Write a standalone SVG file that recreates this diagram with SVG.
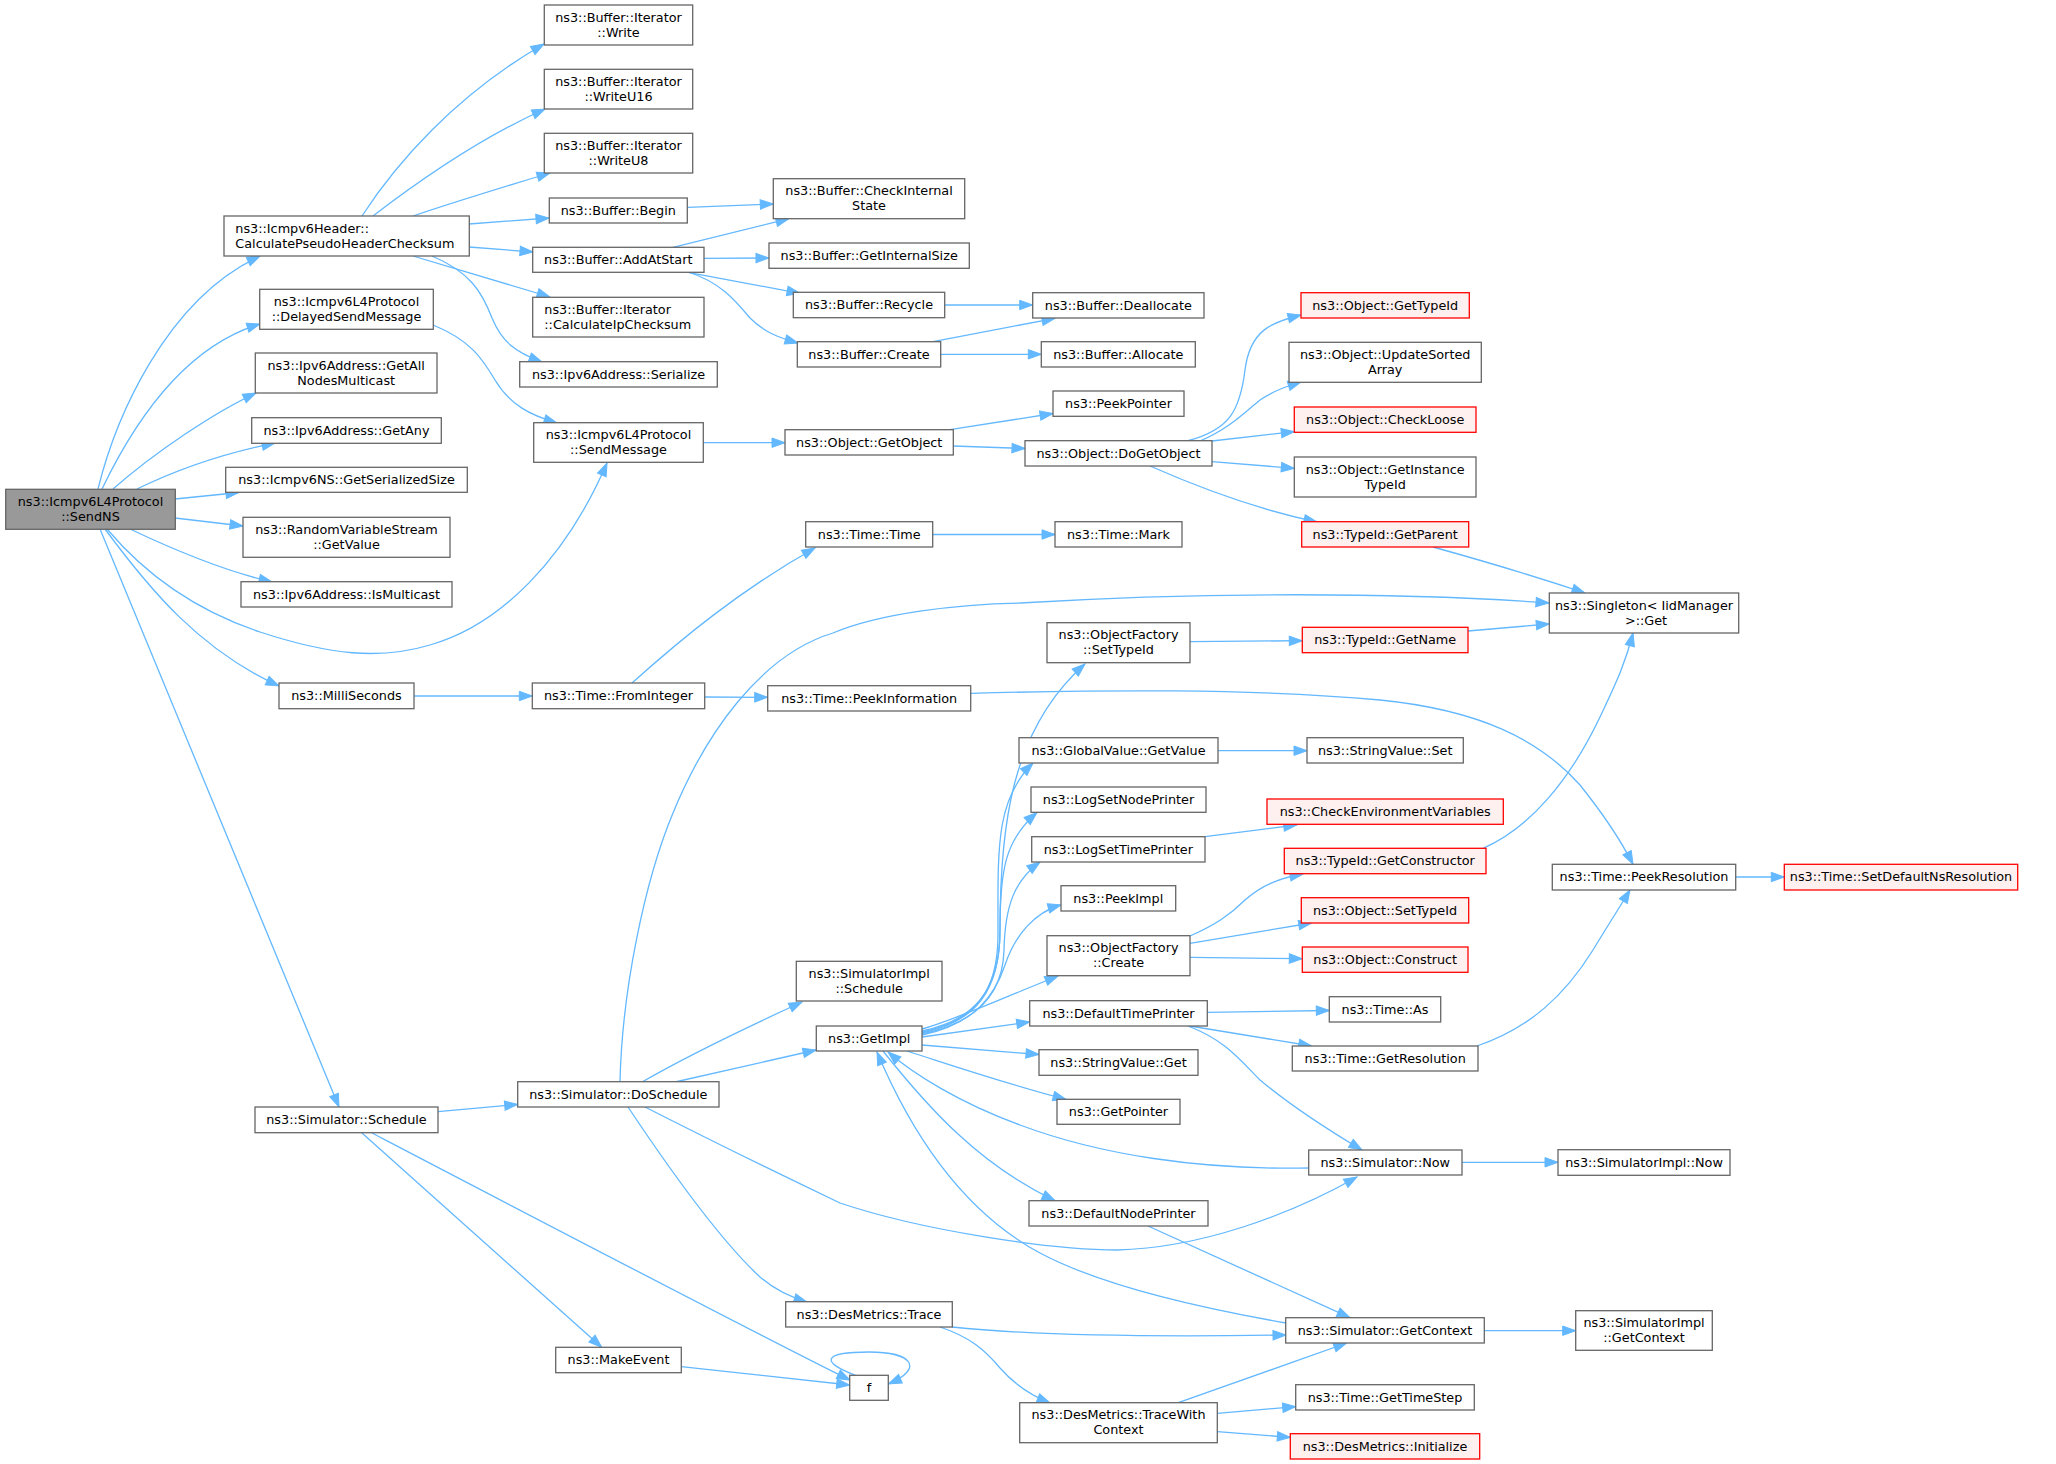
<svg xmlns="http://www.w3.org/2000/svg" width="2056" height="1464" viewBox="0 0 2056 1464">
<style>
.n rect{fill:#ffffff;stroke:#666666;stroke-width:1.3}
.r rect{fill:#fff0f0;stroke:#ff0000;stroke-width:1.3}
.root rect{fill:#999999;stroke:#666666;stroke-width:1.3}
text{font-family:"DejaVu Sans",sans-serif;font-size:12.8px;fill:#000000;text-anchor:middle}
text.l{text-anchor:start}
#edges path{fill:none;stroke:#63b8ff;stroke-width:1.3;marker-end:url(#a)}
</style>
<defs>
<marker id="a" markerWidth="14" markerHeight="10" refX="13" refY="4.7" orient="auto" markerUnits="userSpaceOnUse" style="overflow:visible">
<path d="M0,0 L13,4.7 L0,9.4 z" fill="#63b8ff" stroke="#63b8ff" stroke-width="1"/>
</marker>
</defs>
<rect x="0" y="0" width="2056" height="1464" fill="#ffffff"/>
<g id="edges">
<path d="M98,489 C115,420 165,300 260,256"/>
<path d="M102,489 C140,410 190,345 260,324"/>
<path d="M113,489 C155,452 215,412 256,393"/>
<path d="M137,489 C180,468 230,452 275,443"/>
<path d="M175,499 L239,492.5"/>
<path d="M175,518 L243,526"/>
<path d="M130,529 C170,548 220,570 272,582"/>
<path d="M107,529 C150,580 200,612 260,632 C330,655 380,660 430,645 C500,625 565,560 607,463"/>
<path d="M105,529 C150,590 200,650 279,686"/>
<path d="M100,529 L339,1107"/>
<path d="M362,216 C395,165 455,95 544,44"/>
<path d="M373,216 C420,180 480,138 545,109"/>
<path d="M413,216 C460,200 500,188 550,173"/>
<path d="M469,224 L549,218"/>
<path d="M469,247 L533,252"/>
<path d="M413,256 C460,270 500,282 550,297"/>
<path d="M432,256 C470,272 482,292 492,318 C502,342 515,352 542,362"/>
<path d="M433,325 C470,340 482,358 495,380 C510,405 530,415 557,423"/>
<path d="M703,442.7 L785,442.7"/>
<path d="M673,247.3 L789,218.7"/>
<path d="M704,258.3 L769,258"/>
<path d="M688,272.3 L800,293.3"/>
<path d="M688,272 C720,282 735,300 750,318 C765,333 780,338 798,343"/>
<path d="M687.3,207.3 L773.3,204"/>
<path d="M944.7,305 L1032.7,305"/>
<path d="M933,341.7 L1055,318.3"/>
<path d="M940.7,354.3 L1041.3,354.3"/>
<path d="M950,429.7 L1053,413.5"/>
<path d="M953.3,446 L1025,448.5"/>
<path d="M1187,441 C1230,430 1240,410 1245,370 C1250,330 1272,322 1301,315"/>
<path d="M1200,441 C1230,428 1245,412 1260,400 C1275,390 1288,386 1301,382"/>
<path d="M1212,441 L1294.3,431.7"/>
<path d="M1212,461.7 L1294.3,468.3"/>
<path d="M1150,466 C1200,488 1260,510 1317,522"/>
<path d="M1433,547 C1480,560 1540,578 1585,593"/>
<path d="M1468,631 L1549.3,624"/>
<path d="M1190,641.7 L1302.3,640.7"/>
<path d="M620,1082 C622,990 645,880 673,813 C705,735 760,655 833,633 C880,613 960,604 1020,603 C1200,592 1400,592 1549,603"/>
<path d="M642,1082 C680,1060 730,1035 802,1002"/>
<path d="M675,1082 L816,1050"/>
<path d="M645,1107 C700,1135 750,1160 840,1203 C920,1230 1050,1250 1117,1250 C1200,1248 1290,1215 1357,1177"/>
<path d="M628,1107 C670,1170 720,1240 760,1277 C775,1290 790,1297 807,1302"/>
<path d="M438,1111.7 L517.7,1104.5"/>
<path d="M361.7,1132.7 L601.7,1347.3"/>
<path d="M372,1133 C600,1252 780,1346 850,1380"/>
<path d="M681.3,1366.7 L849.7,1385"/>
<path d="M856,1375.5 C820,1362 822,1352 869,1352 C912,1352 925,1368 888.5,1384"/>
<path d="M952,1327 C1000,1332 1100,1338 1286,1335"/>
<path d="M940,1327 C970,1337 985,1350 1000,1368 C1015,1385 1030,1395 1050,1403"/>
<path d="M922,1031 C975,1020 1000,990 1000,930 C1000,830 1010,730 1085,664"/>
<path d="M922,1032 C975,1021 998,992 998,935 C998,850 995,800 1033,763"/>
<path d="M922,1033 C975,1022 1000,992 1000,930 C1000,870 1005,840 1037,812.5"/>
<path d="M922,1034 C975,1023 1003,995 1004,950 C1005,905 1015,880 1040,862"/>
<path d="M922,1035 C975,1024 995,995 1005,965 C1015,935 1035,912 1061,905"/>
<path d="M922,1029 C955,1020 1005,997 1058,976"/>
<path d="M922,1037 L1029.7,1022"/>
<path d="M922,1045 L1039,1054.5"/>
<path d="M907,1051 C960,1068 1010,1085 1066,1099.3"/>
<path d="M883,1051 C930,1110 980,1165 1055,1200.7"/>
<path d="M1308.7,1168 C1200,1170 1100,1155 1020,1125 C960,1103 915,1075 888,1052"/>
<path d="M1286,1323 C1200,1308 1100,1285 1040,1253 C960,1210 910,1130 877,1052"/>
<path d="M1218,750.7 L1307,750.7"/>
<path d="M1205,836.7 L1296.7,825"/>
<path d="M1190,936 C1215,925 1230,915 1245,900 C1262,885 1280,878 1303,874"/>
<path d="M1190,943.3 L1311.7,923"/>
<path d="M1190,957.3 L1302.3,958.7"/>
<path d="M1207.3,1012.3 L1329.3,1010.5"/>
<path d="M1190,1026 L1311.7,1046"/>
<path d="M1188,1026 C1225,1040 1240,1060 1260,1080 C1290,1105 1320,1125 1362,1150"/>
<path d="M1483,848.3 C1530,828 1570,780 1600,717 C1615,685 1625,665 1633,633"/>
<path d="M1477,1046 C1530,1028 1565,995 1593,950 C1605,930 1618,910 1630,890"/>
<path d="M971,693.3 C1100,690 1250,688 1380,700 C1480,710 1540,740 1580,785 C1600,810 1618,835 1633,864.3"/>
<path d="M1735.7,877 L1784.3,877"/>
<path d="M1148,1226 L1350,1317.7"/>
<path d="M632,683 C680,640 740,590 815,548"/>
<path d="M704.7,697 L767.7,697.3"/>
<path d="M932.7,534.5 L1055,534.5"/>
<path d="M414,696 L532.3,696"/>
<path d="M1462,1162.3 L1558,1162.3"/>
<path d="M1484.3,1330.7 L1575.7,1330.7"/>
<path d="M1178.3,1402.7 L1346.7,1343"/>
<path d="M1217.3,1413.3 L1295.7,1406.7"/>
<path d="M1217.3,1431.7 L1290.3,1437.3"/>
</g>
<g id="n_sendns" class="root"><rect x="5.7" y="489.3" width="169.6" height="40"/><text x="90.5" y="505.8">ns3::Icmpv6L4Protocol</text><text x="90.5" y="520.8">::SendNS</text></g>
<g id="n_calcpseudo" class="n"><rect x="224" y="216" width="245.3" height="40"/><text class="l" x="235.3" y="232.5">ns3::Icmpv6Header::</text><text class="l" x="235.3" y="247.5">CalculatePseudoHeaderChecksum</text></g>
<g id="n_delayed" class="n"><rect x="259.7" y="289.3" width="173.6" height="40"/><text x="346.5" y="305.8">ns3::Icmpv6L4Protocol</text><text x="346.5" y="320.8">::DelayedSendMessage</text></g>
<g id="n_getallnodes" class="n"><rect x="255.3" y="353" width="181.7" height="40"/><text x="346.2" y="369.5">ns3::Ipv6Address::GetAll</text><text x="346.2" y="384.5">NodesMulticast</text></g>
<g id="n_getany" class="n"><rect x="251.7" y="417.7" width="189.6" height="25.6"/><text x="346.5" y="434.5">ns3::Ipv6Address::GetAny</text></g>
<g id="n_getsersize" class="n"><rect x="225.7" y="467.3" width="241.6" height="25"/><text x="346.5" y="484">ns3::Icmpv6NS::GetSerializedSize</text></g>
<g id="n_rvs" class="n"><rect x="243" y="517.3" width="207" height="40"/><text x="346.5" y="533.8">ns3::RandomVariableStream</text><text x="346.5" y="548.8">::GetValue</text></g>
<g id="n_ismulticast" class="n"><rect x="241" y="581.7" width="211" height="25.3"/><text x="346.5" y="598.5">ns3::Ipv6Address::IsMulticast</text></g>
<g id="n_milliseconds" class="n"><rect x="279" y="683" width="135" height="25.7"/><text x="346.5" y="700">ns3::MilliSeconds</text></g>
<g id="n_simschedule" class="n"><rect x="255" y="1107" width="183" height="25.7"/><text x="346.5" y="1124">ns3::Simulator::Schedule</text></g>
<g id="n_write" class="n"><rect x="544.3" y="5" width="148.4" height="40"/><text x="618.5" y="21.5">ns3::Buffer::Iterator</text><text x="618.5" y="36.5">::Write</text></g>
<g id="n_writeu16" class="n"><rect x="544.3" y="69.3" width="148.4" height="39.7"/><text x="618.5" y="85.8">ns3::Buffer::Iterator</text><text x="618.5" y="100.8">::WriteU16</text></g>
<g id="n_writeu8" class="n"><rect x="544.3" y="133.3" width="148.4" height="39.7"/><text x="618.5" y="149.8">ns3::Buffer::Iterator</text><text x="618.5" y="164.8">::WriteU8</text></g>
<g id="n_begin" class="n"><rect x="549.3" y="198" width="138" height="25"/><text x="618.3" y="214.8">ns3::Buffer::Begin</text></g>
<g id="n_addatstart" class="n"><rect x="532.7" y="247.3" width="171.3" height="25"/><text x="618.3" y="264">ns3::Buffer::AddAtStart</text></g>
<g id="n_calcipcs" class="n"><rect x="532.7" y="297.3" width="171.3" height="39.7"/><text class="l" x="544.3" y="313.8">ns3::Buffer::Iterator</text><text class="l" x="544.3" y="328.8">::CalculateIpChecksum</text></g>
<g id="n_serialize" class="n"><rect x="519.7" y="361.7" width="197.6" height="25.3"/><text x="618.5" y="378.5">ns3::Ipv6Address::Serialize</text></g>
<g id="n_sendmessage" class="n"><rect x="533.7" y="422.7" width="169.6" height="39.6"/><text x="618.5" y="439.2">ns3::Icmpv6L4Protocol</text><text x="618.5" y="454.2">::SendMessage</text></g>
<g id="n_frominteger" class="n"><rect x="532.3" y="683" width="172.4" height="25.7"/><text x="618.5" y="700">ns3::Time::FromInteger</text></g>
<g id="n_doschedule" class="n"><rect x="517.7" y="1081.7" width="201.3" height="25.3"/><text x="618.3" y="1098.5">ns3::Simulator::DoSchedule</text></g>
<g id="n_makeevent" class="n"><rect x="555.7" y="1347.3" width="125.6" height="25.4"/><text x="618.5" y="1364">ns3::MakeEvent</text></g>
<g id="n_checkinternal" class="n"><rect x="773.3" y="178.7" width="191.4" height="40"/><text x="869" y="195.2">ns3::Buffer::CheckInternal</text><text x="869" y="210.2">State</text></g>
<g id="n_getinternalsize" class="n"><rect x="769" y="243" width="200.3" height="25.3"/><text x="869.2" y="259.8">ns3::Buffer::GetInternalSize</text></g>
<g id="n_recycle" class="n"><rect x="793.3" y="292.3" width="151.4" height="25.4"/><text x="869" y="309">ns3::Buffer::Recycle</text></g>
<g id="n_create" class="n"><rect x="797.3" y="341.7" width="143.4" height="25.3"/><text x="869" y="358.5">ns3::Buffer::Create</text></g>
<g id="n_getobject" class="n"><rect x="785" y="429.7" width="168.3" height="25.3"/><text x="869.2" y="446.5">ns3::Object::GetObject</text></g>
<g id="n_timetime" class="n"><rect x="805.7" y="521.7" width="127" height="25.3"/><text x="869.2" y="538.5">ns3::Time::Time</text></g>
<g id="n_peekinfo" class="n"><rect x="767.7" y="685.7" width="203" height="25.3"/><text x="869.2" y="702.5">ns3::Time::PeekInformation</text></g>
<g id="n_simimplschedule" class="n"><rect x="796.3" y="961.3" width="145.7" height="39.7"/><text x="869.2" y="977.8">ns3::SimulatorImpl</text><text x="869.2" y="992.8">::Schedule</text></g>
<g id="n_getimpl" class="n"><rect x="816.3" y="1026" width="105.7" height="25"/><text x="869.2" y="1043">ns3::GetImpl</text></g>
<g id="n_destrace" class="n"><rect x="785.7" y="1301.7" width="166.6" height="25.3"/><text x="869" y="1318.5">ns3::DesMetrics::Trace</text></g>
<g id="n_f" class="n"><rect x="849.7" y="1375.3" width="38.6" height="25"/><text x="869" y="1392">f</text></g>
<g id="n_deallocate" class="n"><rect x="1032.7" y="292.7" width="171.3" height="25.3"/><text x="1118.3" y="309.5">ns3::Buffer::Deallocate</text></g>
<g id="n_allocate" class="n"><rect x="1041.3" y="341.7" width="154" height="25.3"/><text x="1118.3" y="358.5">ns3::Buffer::Allocate</text></g>
<g id="n_peekpointer" class="n"><rect x="1053" y="391" width="131" height="25.3"/><text x="1118.5" y="407.8">ns3::PeekPointer</text></g>
<g id="n_dogetobject" class="n"><rect x="1025" y="440.7" width="187" height="25.3"/><text x="1118.5" y="457.5">ns3::Object::DoGetObject</text></g>
<g id="n_mark" class="n"><rect x="1055" y="521.7" width="127" height="25.3"/><text x="1118.5" y="538.5">ns3::Time::Mark</text></g>
<g id="n_ofsettypeid" class="n"><rect x="1047" y="622.7" width="143" height="40"/><text x="1118.5" y="639.2">ns3::ObjectFactory</text><text x="1118.5" y="654.2">::SetTypeId</text></g>
<g id="n_gvgetvalue" class="n"><rect x="1019" y="737.7" width="199" height="25.3"/><text x="1118.5" y="754.5">ns3::GlobalValue::GetValue</text></g>
<g id="n_logsetnode" class="n"><rect x="1031" y="787" width="175" height="25.3"/><text x="1118.5" y="803.8">ns3::LogSetNodePrinter</text></g>
<g id="n_logsettime" class="n"><rect x="1031.7" y="836.7" width="173.3" height="25.3"/><text x="1118.3" y="853.5">ns3::LogSetTimePrinter</text></g>
<g id="n_peekimpl" class="n"><rect x="1061" y="885.7" width="114.7" height="25.3"/><text x="1118.3" y="902.5">ns3::PeekImpl</text></g>
<g id="n_ofcreate" class="n"><rect x="1047" y="935.7" width="143" height="40"/><text x="1118.5" y="952.2">ns3::ObjectFactory</text><text x="1118.5" y="967.2">::Create</text></g>
<g id="n_deftimeprinter" class="n"><rect x="1029.7" y="1000.7" width="177.6" height="25.3"/><text x="1118.5" y="1017.5">ns3::DefaultTimePrinter</text></g>
<g id="n_svget" class="n"><rect x="1039" y="1049.7" width="159" height="25.6"/><text x="1118.5" y="1066.5">ns3::StringValue::Get</text></g>
<g id="n_getpointer" class="n"><rect x="1057" y="1099.3" width="123" height="25"/><text x="1118.5" y="1116">ns3::GetPointer</text></g>
<g id="n_defnodeprinter" class="n"><rect x="1029" y="1200.7" width="179" height="25.3"/><text x="1118.5" y="1217.5">ns3::DefaultNodePrinter</text></g>
<g id="n_tracewithctx" class="n"><rect x="1019.7" y="1402.7" width="197.6" height="40"/><text x="1118.5" y="1419.2">ns3::DesMetrics::TraceWith</text><text x="1118.5" y="1434.2">Context</text></g>
<g id="n_objgettypeid" class="r"><rect x="1301" y="292.7" width="168.3" height="25.3"/><text x="1385.2" y="309.5">ns3::Object::GetTypeId</text></g>
<g id="n_updatesorted" class="n"><rect x="1289" y="342.3" width="192.3" height="40"/><text x="1385.2" y="358.8">ns3::Object::UpdateSorted</text><text x="1385.2" y="373.8">Array</text></g>
<g id="n_checkloose" class="r"><rect x="1294.3" y="407" width="181.7" height="25.3"/><text x="1385.2" y="423.8">ns3::Object::CheckLoose</text></g>
<g id="n_getinstancetypeid" class="n"><rect x="1294.3" y="457" width="181.7" height="40"/><text x="1385.2" y="473.5">ns3::Object::GetInstance</text><text x="1385.2" y="488.5">TypeId</text></g>
<g id="n_getparent" class="r"><rect x="1301.7" y="521.7" width="167" height="25.3"/><text x="1385.2" y="538.5">ns3::TypeId::GetParent</text></g>
<g id="n_getname" class="r"><rect x="1302.3" y="627.3" width="165.7" height="25.4"/><text x="1385.2" y="644">ns3::TypeId::GetName</text></g>
<g id="n_svset" class="n"><rect x="1307" y="737.7" width="156.3" height="25.3"/><text x="1385.2" y="754.5">ns3::StringValue::Set</text></g>
<g id="n_checkenv" class="r"><rect x="1267" y="799" width="236.3" height="25.3"/><text x="1385.2" y="815.8">ns3::CheckEnvironmentVariables</text></g>
<g id="n_getconstructor" class="r"><rect x="1284.3" y="848.3" width="201.7" height="25.4"/><text x="1385.2" y="865">ns3::TypeId::GetConstructor</text></g>
<g id="n_objsettypeid" class="r"><rect x="1301.3" y="897.7" width="167.4" height="25.3"/><text x="1385" y="914.5">ns3::Object::SetTypeId</text></g>
<g id="n_construct" class="r"><rect x="1302.3" y="947" width="165.7" height="25.3"/><text x="1385.2" y="963.8">ns3::Object::Construct</text></g>
<g id="n_timeas" class="n"><rect x="1329.3" y="996.7" width="111.4" height="25.3"/><text x="1385" y="1013.5">ns3::Time::As</text></g>
<g id="n_getresolution" class="n"><rect x="1292.3" y="1046" width="185.7" height="25"/><text x="1385.2" y="1062.8">ns3::Time::GetResolution</text></g>
<g id="n_simnow" class="n"><rect x="1308.7" y="1150" width="153.3" height="25"/><text x="1385.3" y="1166.8">ns3::Simulator::Now</text></g>
<g id="n_getcontext" class="n"><rect x="1285.7" y="1317.7" width="198.6" height="25.3"/><text x="1385" y="1334.5">ns3::Simulator::GetContext</text></g>
<g id="n_gettimestep" class="n"><rect x="1295.7" y="1384.7" width="178.6" height="25.3"/><text x="1385" y="1401.5">ns3::Time::GetTimeStep</text></g>
<g id="n_desinit" class="r"><rect x="1290.3" y="1433.7" width="189.4" height="25.3"/><text x="1385" y="1450.5">ns3::DesMetrics::Initialize</text></g>
<g id="n_singleton" class="n"><rect x="1549.3" y="593" width="189.4" height="40"/><text x="1644" y="609.5">ns3::Singleton&lt; IidManager</text><text x="1646" y="624.5">&gt;::Get</text></g>
<g id="n_peekres" class="n"><rect x="1552.3" y="864.3" width="183.4" height="25.7"/><text x="1644" y="881">ns3::Time::PeekResolution</text></g>
<g id="n_simimplnow" class="n"><rect x="1558" y="1149.7" width="172" height="25.6"/><text x="1644" y="1166.5">ns3::SimulatorImpl::Now</text></g>
<g id="n_simimplgetctx" class="n"><rect x="1575.7" y="1310.7" width="136.6" height="39.6"/><text x="1644" y="1327.2">ns3::SimulatorImpl</text><text x="1644" y="1342.2">::GetContext</text></g>
<g id="n_setdefaultns" class="r"><rect x="1784.3" y="864.3" width="233.4" height="25.7"/><text x="1901" y="881">ns3::Time::SetDefaultNsResolution</text></g>
</svg>
